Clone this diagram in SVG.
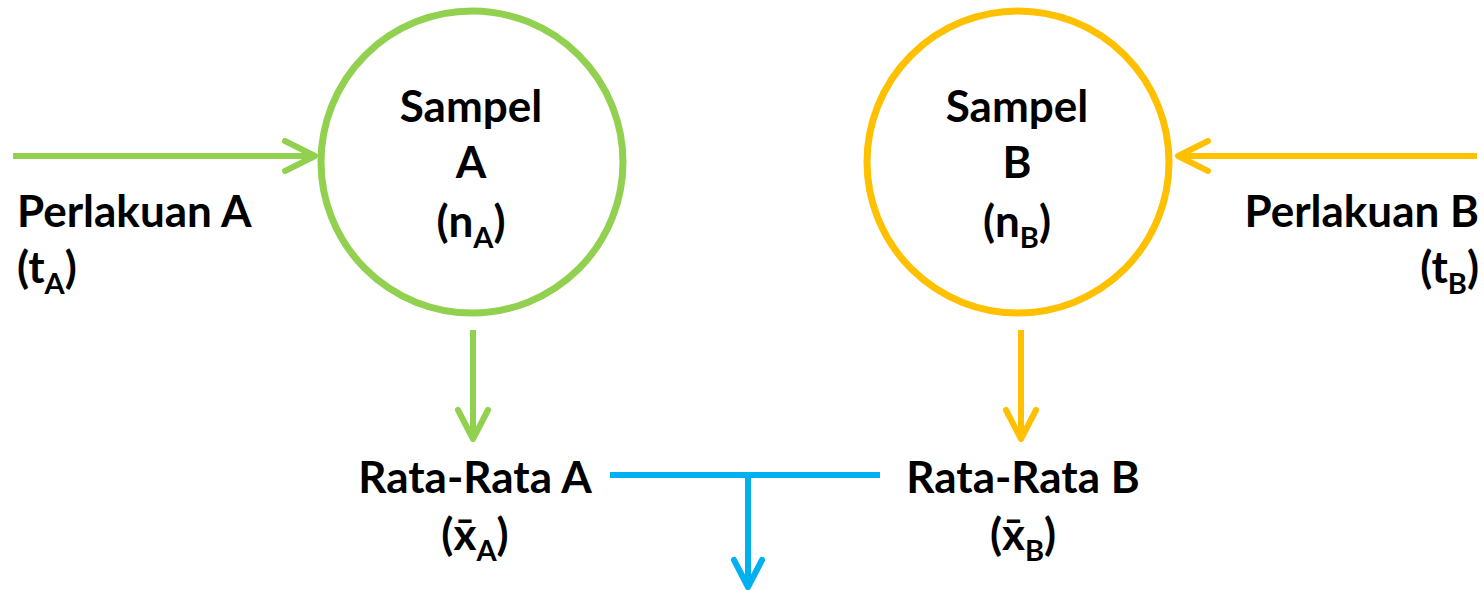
<svg xmlns="http://www.w3.org/2000/svg" width="1484" height="590" viewBox="0 0 1484 590">
<style>
.t{font-family:Lato,"Liberation Sans",sans-serif;font-weight:bold;font-size:44px;fill:#000}
.s{font-size:29px}
.c{text-anchor:middle}
.e{text-anchor:end}
.ln{fill:none;stroke-width:6;stroke-linecap:butt}
.hd{fill:none;stroke-width:6;stroke-linecap:round;stroke-linejoin:round}
.g{stroke:#92D050}
.o{stroke:#FFC000}
.b{stroke:#00B0F0}
</style>
<rect width="1484" height="590" fill="#fff"/>
<g id="sampelA">
<circle cx="472" cy="162" r="151" fill="#fff" stroke="#92D050" stroke-width="7"/>
<text class="t c" x="471" y="122">Sampel</text>
<text class="t c" x="471" y="178">A</text>
<text class="t c" x="471" y="237">(n<tspan class="s" dy="11">A</tspan><tspan dy="-11">)</tspan></text>
</g>
<g id="sampelB">
<circle cx="1018" cy="162" r="151" fill="#fff" stroke="#FFC000" stroke-width="7"/>
<text class="t c" x="1017" y="122">Sampel</text>
<text class="t c" x="1017" y="178">B</text>
<text class="t c" x="1017" y="237">(n<tspan class="s" dy="11">B</tspan><tspan dy="-11">)</tspan></text>
</g>
<g id="perlakuanA">
<text class="t" x="17" y="227">Perlakuan A</text>
<text class="t" x="17" y="283">(t<tspan class="s" dy="11">A</tspan><tspan dy="-11">)</tspan></text>
</g>
<g id="perlakuanB">
<text class="t e" x="1479" y="227">Perlakuan B</text>
<text class="t e" x="1479" y="283">(t<tspan class="s" dy="11">B</tspan><tspan dy="-11">)</tspan></text>
</g>
<g id="rataA">
<text class="t c" x="475" y="493">Rata-Rata A</text>
<text class="t c" x="475" y="550">(x̄<tspan class="s" dy="11">A</tspan><tspan dy="-11">)</tspan></text>
</g>
<g id="rataB">
<text class="t c" x="1023" y="493">Rata-Rata B</text>
<text class="t c" x="1023" y="550">(x̄<tspan class="s" dy="11">B</tspan><tspan dy="-11">)</tspan></text>
</g>
<g id="connectors">
<line class="ln g" x1="13" y1="156" x2="313" y2="156"/>
<polyline class="hd g" points="285,141 315,156 285,171"/>
<line class="ln o" x1="1477" y1="156" x2="1180" y2="156"/>
<polyline class="hd o" points="1208,141 1178,156 1208,171"/>
<line class="ln g" x1="473" y1="330" x2="473" y2="438"/>
<polyline class="hd g" points="458,410 473,439 488,410"/>
<line class="ln o" x1="1021" y1="330" x2="1021" y2="438"/>
<polyline class="hd o" points="1006,410 1021,439 1036,410"/>
<line class="ln b" x1="610" y1="475" x2="880" y2="475"/>
<line class="ln b" x1="748" y1="475" x2="748" y2="586"/>
<polyline class="hd b" points="734,560 748,587 762,560"/>
</g>
</svg>
